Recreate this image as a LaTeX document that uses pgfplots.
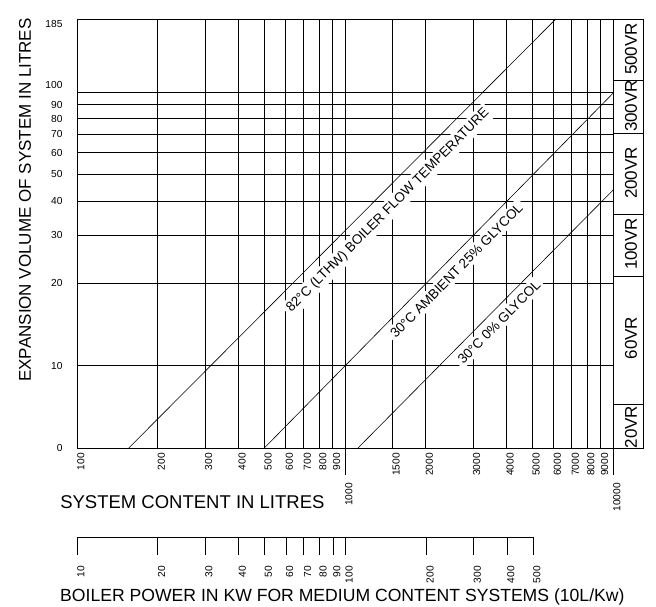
\documentclass[border=0pt]{standalone}
\usepackage{fontspec}
\setmainfont{Liberation Sans}
\usepackage{pgfplots}
\pgfplotsset{compat=1.18}
\begin{document}
\begin{tikzpicture}[x=1pt,y=1pt]
\path[use as bounding box] (-77pt,-158pt) rectangle (579pt,448pt);
% main nomogram: system content vs expansion volume
\begin{axis}[
  at={(0pt,0pt)}, anchor=south west,
  scale only axis, width=536pt, height=429pt,
  xmode=log, ymode=log,
  xmin=100, xmax=10000, ymin=5, ymax=185,
  xminorticks=false, yminorticks=false,
  axis line style={black, line width=0.7pt},
  grid=major,
  major grid style={black, line width=0.7pt},
  major tick length=0pt,
  xtick pos=bottom,
  xtick={100,200,300,400,500,600,700,800,900,1500,2000,3000,4000,5000,6000,7000,8000,9000},
  xticklabels={100,200,300,400,500,600,700,800,900,1500,2000,3000,4000,5000,6000,7000,8000,9000},
  extra x ticks={1000,10000},
  extra x tick labels={1000,10000},
  extra x tick style={major tick length=27pt, tick align=outside, tick style={black, line width=0.7pt},
    xticklabel style={inner xsep=8pt}},
  xticklabel style={rotate=90, anchor=north east, inner ysep=0pt, inner xsep=5pt, font=\fontsize{10.2}{12}\selectfont},
  ytick={5,10,20,30,40,50,60,70,80,90,100,185},
  yticklabels={0,10,20,30,40,50,60,70,80,90,\smash{\raisebox{3.4pt}{100}},\smash{\raisebox{-8.6pt}{185}}},
  yticklabel style={font=\fontsize{10.2}{12}\selectfont, anchor=east, xshift=-11pt},
  /pgf/number format/assume math mode=true,
]
\addplot[black, line width=0.6pt] coordinates {(156,5) (6120,185)}
  node[pos=0.58, sloped, anchor=north, fill=white, inner sep=3pt, outer sep=7pt, font=\fontsize{13.5}{16}\selectfont] {82°C (LTHW) BOILER FLOW TEMPERATURE};
\addplot[black, line width=0.6pt] coordinates {(500,5) (10000,99)}
  node[pos=0.525, sloped, anchor=north, fill=white, inner sep=3pt, outer sep=5pt, font=\fontsize{13.5}{16}\selectfont] {30°C AMBIENT 25\% GLYCOL};
\addplot[black, line width=0.6pt] coordinates {(1118,5) (10000,43.8)}
  node[pos=0.52, sloped, anchor=north, fill=white, inner sep=3pt, outer sep=4pt, font=\fontsize{13.5}{16}\selectfont] {30°C 0\% GLYCOL};
\end{axis}
% boiler power scale (10 L per kW)
\begin{axis}[
  at={(0pt,-89pt)}, anchor=south west,
  scale only axis, width=456pt, height=10pt,
  xmode=log, xmin=10, xmax=500, ymin=0, ymax=1,
  xminorticks=false,
  axis x line=bottom, hide y axis,
  x axis line style={-, black, line width=0.7pt},
  xtick={10,20,30,40,50,60,70,80,90,100,200,300,400,500},
  xticklabels={10,20,30,40,50,60,70,80,90,100,200,300,400,500},
  tick align=outside, major tick length=18pt,
  xtick style={black, line width=0.7pt},
  xticklabel style={rotate=90, anchor=north east, inner ysep=0pt, inner xsep=11pt, font=\fontsize{10.2}{12}\selectfont},
  /pgf/number format/assume math mode=true,
]
\end{axis}
% vessel size panel
\draw[line width=0.7pt] (536pt,429pt) -- (566pt,429pt) -- (566pt,0pt) -- (536pt,0pt);
\foreach \yy in {368,315,234,172,44} \draw[line width=0.7pt] (536pt,\yy pt) -- (566pt,\yy pt);
\foreach \yy/\lab in {399/500VR,342/300VR,275/200VR,204/100VR,110/60VR,21/20VR}
  \node[rotate=90, font=\fontsize{17}{20}\selectfont] at (554pt,\yy pt) {\lab};
\node[rotate=90, font=\fontsize{17}{20}\selectfont] at (-52pt,248pt) {EXPANSION VOLUME OF SYSTEM IN LITRES};
\node[anchor=east, font=\fontsize{18.5}{22}\selectfont] at (251pt,-54pt) {SYSTEM CONTENT IN LITRES};
\node[anchor=east, font=\fontsize{17.6}{20}\selectfont] at (551pt,-149pt) {BOILER POWER IN KW FOR MEDIUM CONTENT SYSTEMS (10L/Kw)};
\end{tikzpicture}
\end{document}
